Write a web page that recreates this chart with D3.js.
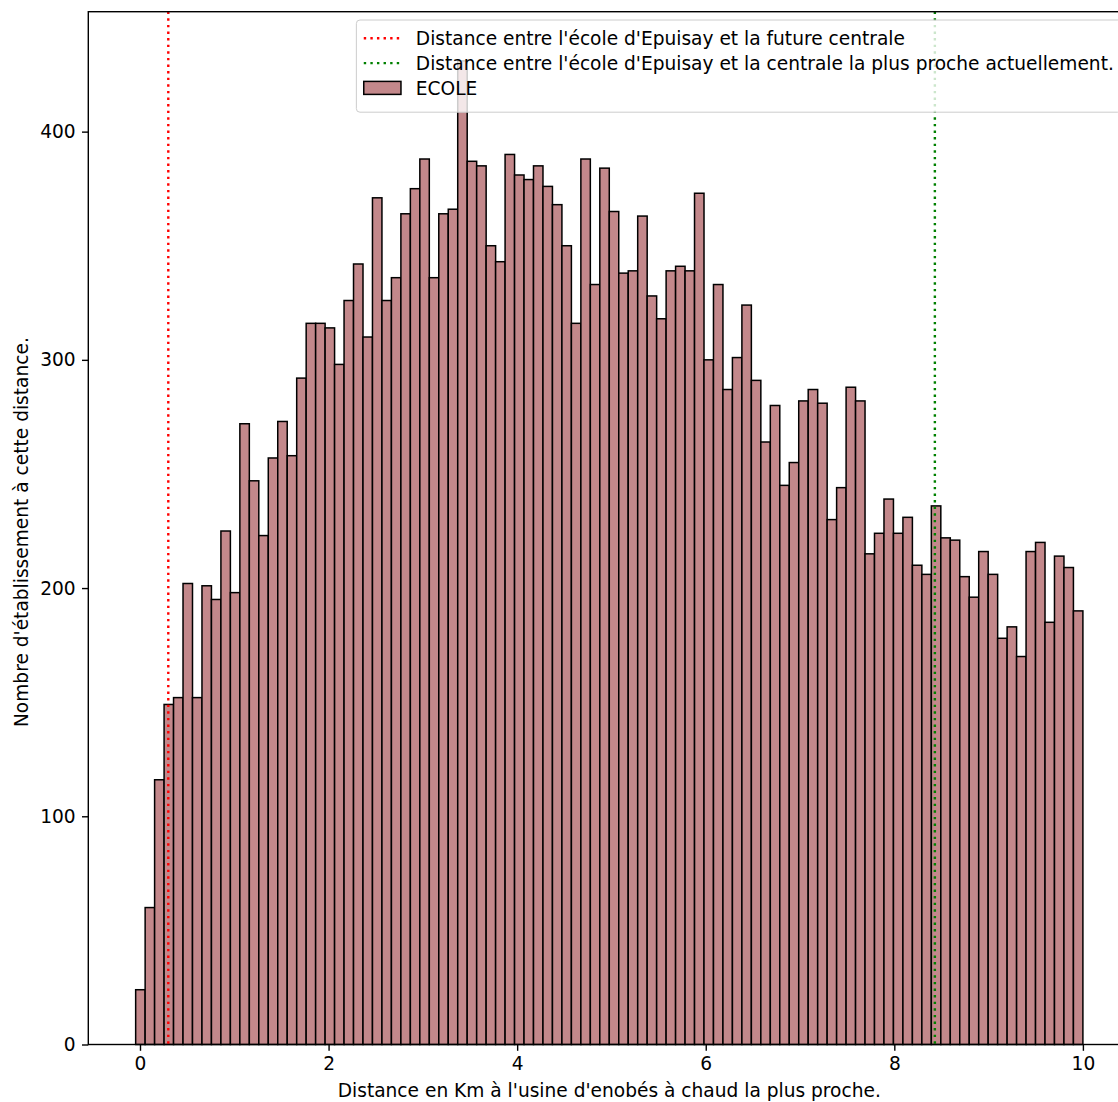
<!DOCTYPE html>
<html>
<head>
<meta charset="utf-8">
<script src="https://cdn.jsdelivr.net/npm/d3@7"></script>
<style>
  body { margin: 0; background: #ffffff; }
  svg { display: block; }
  text { font-family: "DejaVu Sans", sans-serif; }
</style>
</head>
<body>
<svg id="chart" width="1118" height="1102"></svg>
<script>
// ---------- DATA ----------
// Histogram counts (100 bins)
const counts = [
  24, 60, 116, 149, 152, 202, 152, 201, 195, 225,
  198, 272, 247, 223, 257, 273, 258, 292, 316, 316,
  314, 298, 326, 342, 310, 371, 326, 336, 364, 375,
  388, 336, 364, 366, 431, 387, 385, 350, 343, 390,
  381, 379, 385, 376, 368, 350, 316, 388, 333, 384,
  365, 338, 339, 363, 328, 318, 339, 341, 339, 373,
  300, 333, 287, 301, 324, 291, 264, 280, 245, 255,
  282, 287, 281, 230, 244, 288, 282, 215, 224, 239,
  224, 231, 210, 206, 236, 222, 221, 205, 196, 216,
  206, 178, 183, 170, 216, 220, 185, 214, 209, 190
];
const binRange = [-0.046, 10.0];           // first bin left edge, last bin right edge
const xTickValues = [0, 2, 4, 6, 8, 10];
const yTickValues = [0, 100, 200, 300, 400];
const refLineValues = [0.3, 8.43];
const refLineLabels = [
  "Distance entre l'école d'Epuisay et la future centrale",
  "Distance entre l'école d'Epuisay et la centrale la plus proche actuellement."
];
const seriesLabel = "ECOLE";
const xAxisLabel = "Distance en Km à l'usine d'enobés à chaud la plus proche.";
const yAxisLabel = "Nombre d'établissement à cette distance.";

// ---------- LAYOUT / STYLE ----------
const FS = 18.6;
const barFill = "#c3888b";
const refColors = ["red", "green"];
const plotLeft = 88.3, plotTop = 11.7, plotBottom = 1044.5;
const pxPerUnit = 94.29;

const svg = d3.select("#chart");

const span = binRange[1] - binRange[0];
const xDom = [binRange[0] - 0.05 * span, binRange[1] + 0.05 * span];
const plotRight = plotLeft + (xDom[1] - xDom[0]) * pxPerUnit;
const x = d3.scaleLinear().domain(xDom).range([plotLeft, plotRight]);
const yMax = d3.max(counts) * 1.05;
const y = d3.scaleLinear().domain([0, yMax]).range([plotBottom, plotTop]);

const nb = counts.length;
const bw = span / nb;
const bins = counts.map((c, i) => ({ x0: binRange[0] + i * bw, x1: binRange[0] + (i + 1) * bw, c }));

// bars
svg.append("g").selectAll("rect").data(bins).join("rect")
  .attr("x", d => x(d.x0))
  .attr("width", d => x(d.x1) - x(d.x0))
  .attr("y", d => y(d.c))
  .attr("height", d => y(0) - y(d.c))
  .attr("fill", barFill)
  .attr("stroke", "#000")
  .attr("stroke-width", 1.5);

// reference lines
svg.append("g").selectAll("line").data(refLineValues).join("line")
  .attr("x1", d => x(d)).attr("x2", d => x(d))
  .attr("y1", plotTop).attr("y2", plotBottom)
  .attr("stroke", (d, i) => refColors[i])
  .attr("stroke-width", 2.4)
  .attr("stroke-dasharray", "2.4,4.2");

// spines
const sp = svg.append("g").attr("stroke", "#000").attr("stroke-width", 1.4).attr("fill", "none");
sp.append("rect").attr("x", plotLeft).attr("y", plotTop)
  .attr("width", plotRight - plotLeft).attr("height", plotBottom - plotTop);

// axes
const tickLen = 6.3, tickPad = 6.3;
const gx = svg.append("g").attr("transform", `translate(0,${plotBottom})`)
  .call(d3.axisBottom(x).tickValues(xTickValues).tickFormat(d3.format("d"))
        .tickSize(tickLen).tickPadding(tickPad));
const gy = svg.append("g").attr("transform", `translate(${plotLeft},0)`)
  .call(d3.axisLeft(y).tickValues(yTickValues).tickFormat(d3.format("d"))
        .tickSize(tickLen).tickPadding(tickPad));
[gx, gy].forEach(g => {
  g.select(".domain").remove();
  g.selectAll(".tick line").attr("stroke", "#000").attr("stroke-width", 1.4);
  g.selectAll(".tick text").attr("fill", "#000")
    .style("font-family", '"DejaVu Sans", sans-serif').style("font-size", FS + "px");
});

// axis labels
svg.append("text")
  .attr("x", (plotLeft + plotRight) / 2).attr("y", 1097)
  .attr("text-anchor", "middle").style("font-size", FS + "px").attr("fill", "#000")
  .text(xAxisLabel);
svg.append("text")
  .attr("transform", `translate(28,${(plotTop + plotBottom) / 2 + 4}) rotate(-90)`)
  .attr("text-anchor", "middle").style("font-size", FS + "px").attr("fill", "#000")
  .text(yAxisLabel);

// legend
const legendItems = [
  { type: "line", color: refColors[0], label: refLineLabels[0] },
  { type: "line", color: refColors[1], label: refLineLabels[1] },
  { type: "patch", label: seriesLabel }
];
const lg = svg.append("g");
const frame = lg.append("rect");
const rowPitch = 24.8, legTop = 20, pad = 7.4, handleLen = 37.2, handleGap = 14.9;
const rowCy = i => legTop + pad + rowPitch * i + rowPitch / 2 - 1.5;
const texts = legendItems.map((it, i) => lg.append("text")
  .attr("y", rowCy(i) + FS * 0.36)
  .style("font-size", FS + "px").attr("fill", "#000").text(it.label));
const maxW = d3.max(texts, t => t.node().getComputedTextLength());
const legRight = plotRight - 9;
const legWidth = pad + handleLen + handleGap + maxW + pad;
const legLeft = legRight - legWidth;
const legHeight = pad * 2 + rowPitch * legendItems.length + 3;
frame.attr("x", legLeft).attr("y", legTop).attr("width", legWidth).attr("height", legHeight)
  .attr("rx", 3.6).attr("fill", "rgba(255,255,255,0.8)").attr("stroke", "#cccccc").attr("stroke-width", 1);
texts.forEach(t => t.attr("x", legLeft + pad + handleLen + handleGap));
legendItems.forEach((it, i) => {
  const cy = rowCy(i);
  if (it.type === "line") {
    lg.append("line")
      .attr("x1", legLeft + pad).attr("x2", legLeft + pad + handleLen)
      .attr("y1", cy).attr("y2", cy)
      .attr("stroke", it.color).attr("stroke-width", 2.4).attr("stroke-dasharray", "2.4,4.2");
  } else {
    lg.append("rect")
      .attr("x", legLeft + pad).attr("y", cy - 6.5)
      .attr("width", handleLen).attr("height", 13)
      .attr("fill", barFill).attr("stroke", "#000").attr("stroke-width", 1.5);
  }
});
</script>
</body>
</html>
